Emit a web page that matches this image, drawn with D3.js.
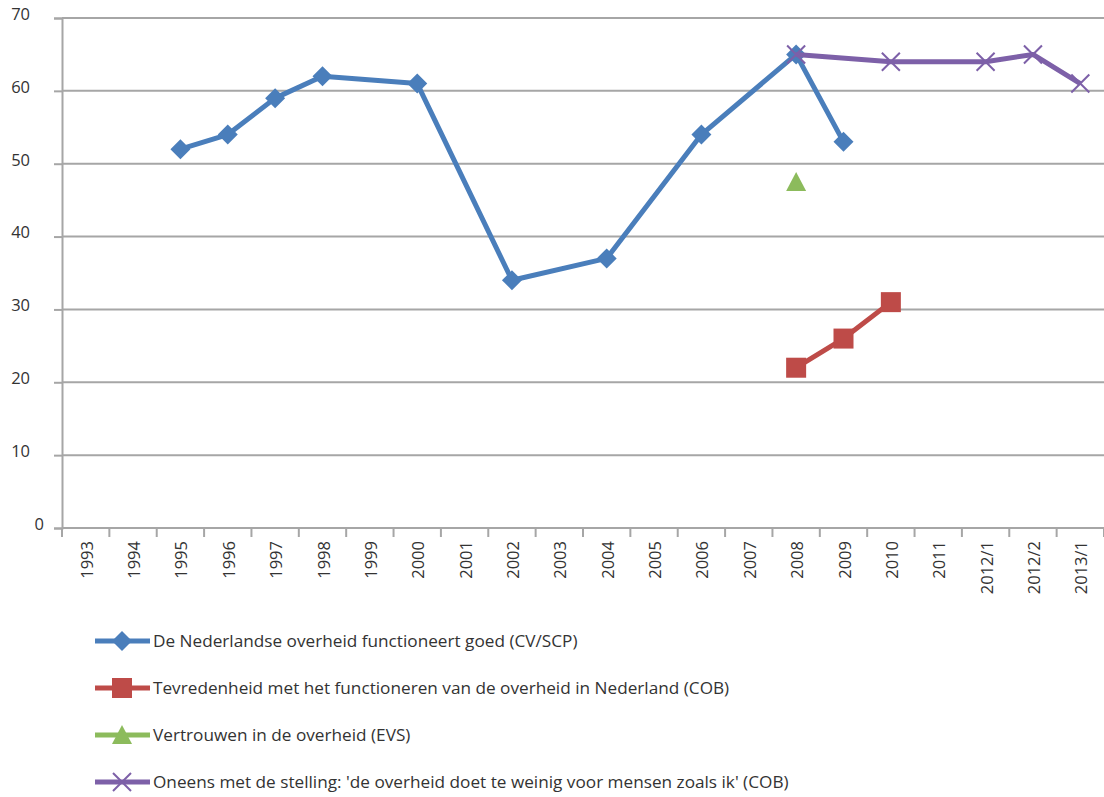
<!DOCTYPE html>
<html>
<head>
<meta charset="utf-8">
<script src="https://cdn.jsdelivr.net/npm/d3@7"></script>
<style>
  body { margin: 0; background: #fff; }
  text { font-family: "Open Sans", sans-serif; fill: #333; }
</style>
</head>
<body>
<svg id="chart"></svg>
<script>
// categories on the x axis
var categories = ["1993", "1994", "1995", "1996", "1997", "1998", "1999", "2000", "2001", "2002",
  "2003", "2004", "2005", "2006", "2007", "2008", "2009", "2010", "2011", "2012/1", "2012/2", "2013/1"];

var yTicks = [0, 10, 20, 30, 40, 50, 60, 70];

// series values (category -> value)
var cvScp = [["1995", 52], ["1996", 54], ["1997", 59], ["1998", 62], ["2000", 61], ["2002", 34],
  ["2004", 37], ["2006", 54], ["2008", 65], ["2009", 53]];
var cobTevreden = [["2008", 22], ["2009", 26], ["2010", 31]];
var evs = [["2008", 47.5]];
var cobOneens = [["2008", 65], ["2010", 64], ["2012/1", 64], ["2012/2", 65], ["2013/1", 61]];

var seriesNames = [
  "De Nederlandse overheid functioneert goed (CV/SCP)",
  "Tevredenheid met het functioneren van de overheid in Nederland (COB)",
  "Vertrouwen in de overheid (EVS)",
  "Oneens met de stelling: 'de overheid doet te weinig voor mensen zoals ik' (COB)"
];

var series = [
  { name: seriesNames[0], data: cvScp, color: "#4a7ebb", marker: "diamond" },
  { name: seriesNames[1], data: cobTevreden, color: "#be4b48", marker: "square" },
  { name: seriesNames[2], data: evs, color: "#8cbb5c", marker: "triangle" },
  { name: seriesNames[3], data: cobOneens, color: "#7d60a8", marker: "cross" }
];

// afmetingen
var size = { width: 1104, height: 797 };
var margin = { top: 18, right: 0, bottom: 269, left: 62 };
var width = size.width - margin.left - margin.right;
var height = size.height - margin.top - margin.bottom;

var svg = d3.select("#chart")
  .attr("width", size.width)
  .attr("height", size.height);

var g = svg.append("g")
  .attr("transform", "translate(" + margin.left + "," + margin.top + ")");

var x = d3.scaleBand()
  .domain(categories)
  .range([0, width]);

var y = d3.scaleLinear()
  .domain([0, 70])
  .range([height, 0]);

// horizontale rasterlijnen
g.selectAll("line.grid")
  .data(yTicks)
  .enter()
  .append("line")
  .attr("class", "grid")
  .attr("x1", 0)
  .attr("x2", width)
  .attr("y1", function(d){ return y(d); })
  .attr("y2", function(d){ return y(d); })
  .attr("stroke", "#a6a6a6")
  .attr("stroke-width", 2);

// y as
var yAxis = d3.axisLeft(y)
  .tickValues(yTicks)
  .tickSize(8)
  .tickPadding(10);

var yg = g.append("g").call(yAxis);
yg.select(".domain").attr("stroke", "#a6a6a6").attr("stroke-width", 2);
yg.selectAll(".tick line").attr("stroke", "#a6a6a6").attr("stroke-width", 2);
yg.selectAll(".tick text")
  .attr("font-size", 16.5)
  .attr("dy", "0.08em")
  .attr("x", function(d){ return d === 0 ? -18 : -32; })
  .style("fill", "#333");

// x as: streepjes op de bandgrenzen
g.selectAll("line.xtick")
  .data(categories.concat(["end"]))
  .enter()
  .append("line")
  .attr("class", "xtick")
  .attr("x1", function(d, i){ return i < categories.length ? x(d) : width; })
  .attr("x2", function(d, i){ return i < categories.length ? x(d) : width; })
  .attr("y1", height)
  .attr("y2", height + 9)
  .attr("stroke", "#a6a6a6")
  .attr("stroke-width", 2);

g.selectAll("text.xlabel")
  .data(categories)
  .enter()
  .append("text")
  .attr("class", "xlabel")
  .attr("transform", function(d){
    return "translate(" + (x(d) + x.bandwidth() / 2 + 7) + "," + (height + 13) + ") rotate(-90)";
  })
  .attr("text-anchor", "end")
  .attr("font-size", 16.5)
  .text(function(d){ return d; });

// lijnen
var line = d3.line()
  .x(function(d){ return x(d[0]) + x.bandwidth() / 2; })
  .y(function(d){ return y(d[1]); });

function drawMarker(sel, type, color) {
  if (type === "diamond") {
    sel.append("path")
      .attr("d", "M0,-10L10,0L0,10L-10,0Z")
      .attr("fill", color);
  } else if (type === "square") {
    sel.append("rect")
      .attr("x", -10).attr("y", -10)
      .attr("width", 20).attr("height", 20)
      .attr("fill", color);
  } else if (type === "triangle") {
    sel.append("path")
      .attr("d", "M0,-10L10,9L-10,9Z")
      .attr("fill", color);
  } else if (type === "cross") {
    sel.append("path")
      .attr("d", "M-9,-9L9,9M-9,9L9,-9")
      .attr("stroke", color)
      .attr("stroke-width", 2)
      .attr("fill", "none");
  }
}

series.forEach(function(s){
  if (s.data.length > 1) {
    g.append("path")
      .datum(s.data)
      .attr("d", line)
      .attr("fill", "none")
      .attr("stroke", s.color)
      .attr("stroke-width", 5)
      .attr("stroke-linejoin", "round");
  }
  g.selectAll(null)
    .data(s.data)
    .enter()
    .append("g")
    .attr("transform", function(d){
      return "translate(" + (x(d[0]) + x.bandwidth() / 2) + "," + y(d[1]) + ")";
    })
    .each(function(){ drawMarker(d3.select(this), s.marker, s.color); });
});

// legenda
var legendY = d3.scalePoint()
  .domain(seriesNames)
  .range([641, 782]);

var legend = svg.selectAll("g.legend")
  .data(series)
  .enter()
  .append("g")
  .attr("class", "legend")
  .attr("transform", function(d){ return "translate(95," + legendY(d.name) + ")"; });

legend.append("line")
  .attr("x1", 0).attr("x2", 55)
  .attr("y1", 0).attr("y2", 0)
  .attr("stroke", function(d){ return d.color; })
  .attr("stroke-width", 5);

legend.append("g")
  .attr("transform", "translate(27,0)")
  .each(function(d){ drawMarker(d3.select(this), d.marker, d.color); });

legend.append("text")
  .attr("x", 58)
  .attr("dy", "0.35em")
  .attr("font-size", 17.2)
  .text(function(d){ return d.name; });
</script>
</body>
</html>
